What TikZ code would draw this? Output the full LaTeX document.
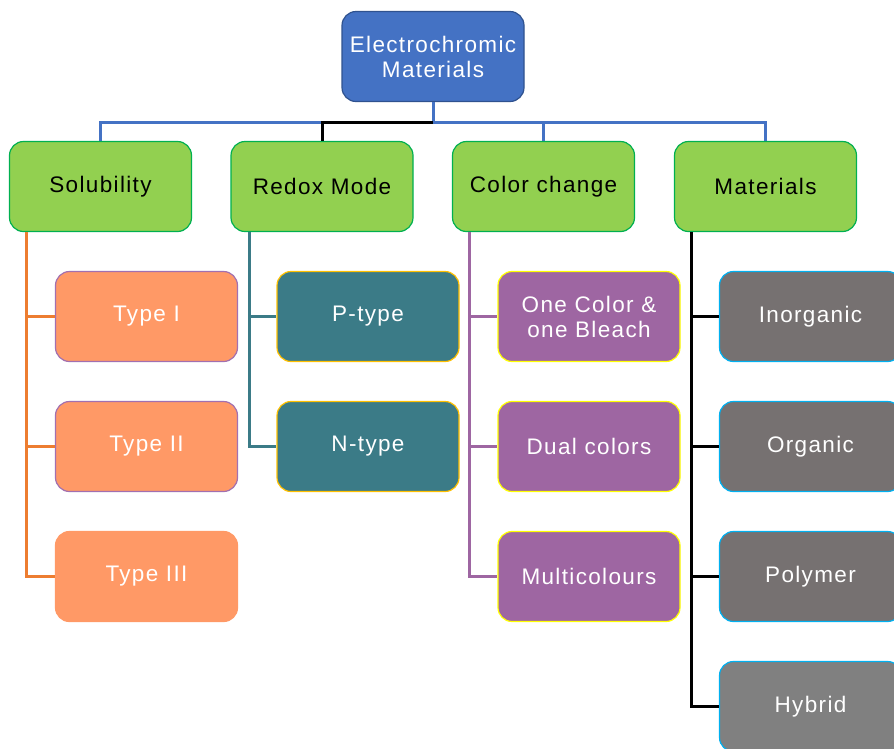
\documentclass[tikz,border=0pt]{standalone}
\usepackage{fontspec}
\setmainfont[LetterSpace=6]{Liberation Sans}
\usetikzlibrary{positioning}
\definecolor{rootfill}{HTML}{4472C4}
\definecolor{rootdraw}{HTML}{2F528F}
\definecolor{catfill}{HTML}{92D050}
\definecolor{catdraw}{HTML}{00B050}
\definecolor{solfill}{HTML}{FF9966}
\definecolor{soldraw}{HTML}{A270B0}
\definecolor{solline}{HTML}{ED7D31}
\definecolor{redfill}{HTML}{3B7B87}
\definecolor{reddraw}{HTML}{FFC000}
\definecolor{colfill}{HTML}{9E66A2}
\definecolor{coldraw}{HTML}{FFFF00}
\definecolor{matfill}{HTML}{767171}
\definecolor{matdraw}{HTML}{00B0F0}
\begin{document}
\begin{tikzpicture}[x=1pt,y=-1pt,every node/.style={draw,rounded corners=14pt,minimum width=182pt,minimum height=90pt,line width=1.2pt,align=center,text=white,font=\fontsize{22.5}{25}\selectfont},
  cat/.style={fill=catfill,draw=catdraw,text=black},
  sol/.style={fill=solfill,draw=soldraw},
  red/.style={fill=redfill,draw=reddraw},
  col/.style={fill=colfill,draw=coldraw},
  mat/.style={fill=matfill,draw=matdraw},
  link/.style={line width=3pt}]
  \useasboundingbox (0,0) rectangle (894,748);
  \clip (0,0) rectangle (894,748);

  \node[fill=rootfill,draw=rootdraw] (0) at (433,56.5){Electrochromic\\Materials};

  \node[cat] (1) at (100.5,186.5){Solubility};
  \node[cat] (2) at (322,186.5){Redox Mode};
  \node[cat] (3) at (543.5,186.5){Color change};
  \node[cat] (4) at (765.5,186.5){Materials};

  \node[sol] (11) at (146.5,316.5){Type I};
  \node[sol] (12) at (146.5,446.5){Type II};
  \node[sol,draw=solfill] (13) at (146.5,576.5){Type III};

  \node[red] (21) at (368,316.5){P-type};
  \node[red] (22) at (368,446.5){N-type};

  \node[col] (31) at (589,316.5){One Color \&\\one Bleach};
  \node[col] (32) at (589,446.5){Dual colors};
  \node[col] (33) at (589,576.5){Multicolours};

  \node[mat] (41) at (810.5,316.5){Inorganic};
  \node[mat] (42) at (810.5,446.5){Organic};
  \node[mat] (43) at (810.5,576.5){Polymer};
  \node[mat,fill=gray] (44) at (810.5,706.5){Hybrid};

  \coordinate (bus) at (433,122);
  \draw[link,rootfill](0)--(bus);
  \draw[link,rootfill](bus)-|(1);
  \draw[link,rootfill](bus)-|(3);
  \draw[link,rootfill](bus)-|(4);
  \draw[link,black](bus)-|(2);

  \draw[link,solline]([xshift=18pt]1.south west)|-(11);
  \draw[link,solline]([xshift=18pt]1.south west)|-(12);
  \draw[link,solline]([xshift=18pt]1.south west)|-(13);
  \draw[link,redfill]([xshift=19pt]2.south west)|-(21);
  \draw[link,redfill]([xshift=19pt]2.south west)|-(22);
  \draw[link,colfill]([xshift=18pt]3.south west)|-(31);
  \draw[link,colfill]([xshift=18pt]3.south west)|-(32);
  \draw[link,colfill]([xshift=18pt]3.south west)|-(33);
  \draw[link,black]([xshift=18pt]4.south west)|-(41);
  \draw[link,black]([xshift=18pt]4.south west)|-(42);
  \draw[link,black]([xshift=18pt]4.south west)|-(43);
  \draw[link,black]([xshift=18pt]4.south west)|-(44);
\end{tikzpicture}
\end{document}
